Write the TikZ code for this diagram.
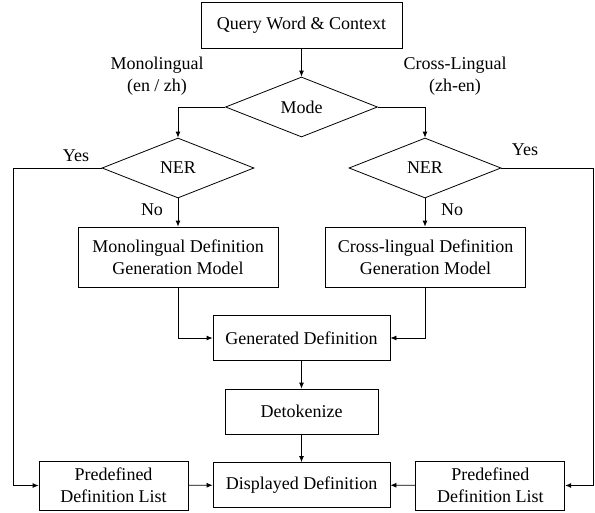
\documentclass[tikz,border=0pt]{standalone}
\usepackage{fontspec}
\setmainfont{Liberation Serif}
\newfontfamily\timesfont{Liberation Serif}
\usetikzlibrary{shapes.geometric,arrows.meta}
\begin{document}
\begin{tikzpicture}[x=1pt,y=-1pt, font=\timesfont\fontsize{18}{22}\selectfont, line width=0.8pt,
 box/.style={draw, rectangle, inner sep=0pt, align=center},
 dia/.style={draw, diamond, inner sep=0pt, aspect=2.5, minimum width=152pt, minimum height=60pt},
 arr/.style={-{Latex[length=6pt,width=5pt]}},
 lbl/.style={inner sep=0pt, align=center}]
\useasboundingbox (0,0) rectangle (595,512);
\node[box, minimum width=201pt, minimum height=46pt] (q) at (301.5,25) {Query Word \& Context};
\node[dia] (mode) at (301.5,107) {Mode};
\node[dia] (ner1) at (178,168) {NER};
\node[dia] (ner2) at (425,168) {NER};
\node[box, minimum width=200pt, minimum height=60pt] (mono) at (178,257) {Monolingual Definition\\Generation Model};
\node[box, minimum width=200pt, minimum height=60pt] (cross) at (425.5,257) {Cross-lingual Definition\\Generation Model};
\node[box, minimum width=177pt, minimum height=45pt] (gen) at (301.5,338) {Generated Definition};
\node[box, minimum width=153pt, minimum height=45pt] (detok) at (301.5,411.5) {Detokenize};
\node[box, minimum width=177pt, minimum height=45pt] (disp) at (301.5,485) {Displayed Definition};
\node[box, minimum width=149pt, minimum height=49pt] (pre1) at (113.5,485.5) {Predefined\\Definition List};
\node[box, minimum width=149pt, minimum height=49pt] (pre2) at (490.3,485.5) {Predefined\\Definition List};
\node[lbl] (lmono) at (157,76) {Monolingual\\(en / zh)};
\node[lbl] (lcross) at (455,76) {Cross-Lingual\\(zh-en)};
\node[lbl] (yes1) at (76,156) {Yes};
\node[lbl] (yes2) at (525,150) {Yes};
\node[lbl] (no1) at (152,210) {No};
\node[lbl] (no2) at (452,210) {No};
\coordinate (lx) at (13.3,168);
\coordinate (rx) at (593.3,168);
\draw[arr] (q) -- (mode);
\draw[arr] (mode.west) -| (ner1.north);
\draw[arr] (mode.east) -| (ner2.north);
\draw[arr] (ner1.south) -- (mono.north);
\draw[arr] (ner2.south) -- (ner2.south |- cross.north);
\draw[arr] (ner1.west) -- (lx) |- (pre1.west);
\draw[arr] (ner2.east) -- (rx) |- (pre2.east);
\draw[arr] (mono.south) |- (gen.west);
\draw[arr] (cross.south) |- (gen.east);
\draw[arr] (gen) -- (detok);
\draw[arr] (detok) -- (disp);
\draw[arr] (pre1) -- (disp);
\draw[arr] (pre2) -- (disp);
\end{tikzpicture}
\end{document}
